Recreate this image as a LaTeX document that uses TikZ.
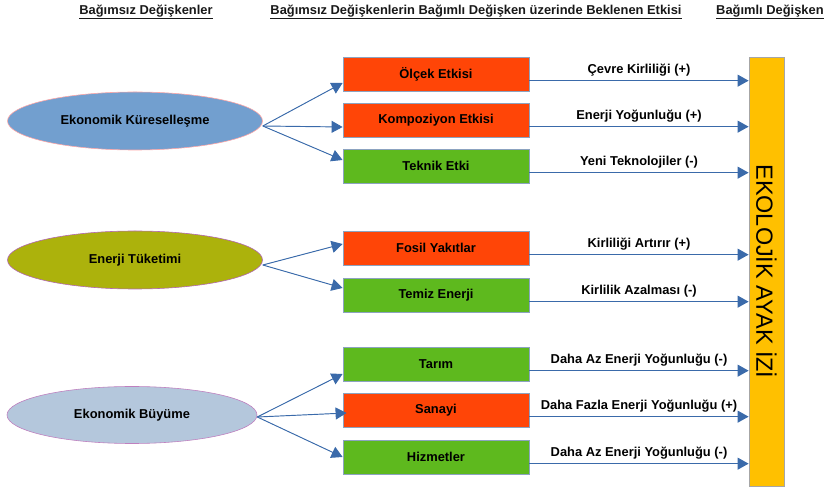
\documentclass[tikz,border=0pt]{standalone}
\usepackage{fontspec}
\setmainfont{Liberation Sans}
\usetikzlibrary{arrows.meta,shapes.geometric}

\definecolor{kirmizi}{HTML}{FF4507}
\definecolor{yesil}{HTML}{5EB91E}
\definecolor{kenar}{HTML}{8CA3C0}
\definecolor{okmavi}{HTML}{3A6AAA}
\definecolor{sari}{HTML}{FFC000}
\definecolor{elmavi}{HTML}{729FCF}
\definecolor{elzeytin}{HTML}{ACB20C}
\definecolor{elacik}{HTML}{B4C7DC}

\begin{document}
\begin{tikzpicture}[x = 0.03cm, y = -0.03cm,
	baslik/.style = {font = \fontsize{11}{13}\selectfont\bfseries, text = black!90, inner sep = 0pt},
	kutu/.style = {draw = kenar, line width = 0.7pt, minimum width = 5.58cm, minimum height = 1.02cm, inner sep = 0pt, font = \fontsize{11}{13}\selectfont\bfseries},
	elips/.style = {ellipse, draw, line width = 0.5pt, minimum width = 7.65cm, minimum height = 1.74cm, inner sep = 0pt, font = \fontsize{11}{13}\selectfont\bfseries},
	ok/.style = {-{Triangle[length = 0.33cm, width = 0.36cm]}, draw = okmavi, fill = okmavi, line width = 0.8pt},
	etiket/.style = {above, inner sep = 3.5pt, font = \fontsize{11}{13}\selectfont\bfseries}]
	\useasboundingbox (0,0) rectangle (829,488);

	\node[baslik] (H1) at (146,12) {\underline{Bağımsız Değişkenler}};
	\node[baslik] (H2) at (476,12) {\underline{Bağımsız Değişkenlerin Bağımlı Değişken üzerinde Beklenen Etkisi}};
	\node[baslik, anchor = west] (H3) at (716,12) {\underline{Bağımlı Değişken}};

	\node[elips, fill = elmavi, draw = red!35] (EK) at (135,121) {Ekonomik Küreselleşme};
	\node[elips, fill = elzeytin, draw = violet!60] (ET) at (135,260) {Enerji Tüketimi};
	\node[elips, fill = elacik, draw = violet!50, minimum width = 7.5cm, minimum height = 1.71cm] (EB) at (132,415) {Ekonomik Büyüme};

	\node[kutu, fill = kirmizi] (OL) at (436,74) {Ölçek Etkisi};
	\node[kutu, fill = kirmizi] (KO) at (436,120) {Kompoziyon Etkisi};
	\node[kutu, fill = yesil] (TE) at (436,166) {Teknik Etki};
	\node[kutu, fill = kirmizi] (FY) at (436,248) {Fosil Yakıtlar};
	\node[kutu, fill = yesil] (TZ) at (436,295) {Temiz Enerji};
	\node[kutu, fill = yesil] (TA) at (436,364) {Tarım};
	\node[kutu, fill = kirmizi] (SA) at (436,410) {Sanayi};
	\node[kutu, fill = yesil] (HI) at (436,457) {Hizmetler};

	\node[draw = black!35, line width = 0.7pt, fill = sari, rotate = -90, minimum width = 12.87cm, minimum height = 1.05cm, inner sep = 0pt, font = \fontsize{20}{24}\selectfont] (AY) at (766.5,271.5) {EKOLOJİK AYAK İZİ};

	\draw[ok] ([yshift = -0.15cm]EK.east) -- ([yshift = -0.27cm]OL.west);
	\draw[ok] ([yshift = -0.15cm]EK.east) -- ([yshift = -0.21cm]KO.west);
	\draw[ok] ([yshift = -0.15cm]EK.east) -- ([yshift = 0.18cm]TE.west);
	\draw[ok] ([yshift = -0.15cm]ET.east) -- ([yshift = 0.12cm]FY.west);
	\draw[ok] ([yshift = -0.15cm]ET.east) -- ([yshift = 0.21cm]TZ.west);
	\draw[ok] ([yshift = -0.06cm]EB.east) -- ([yshift = -0.3cm]TA.west);
	\draw[ok] ([yshift = -0.06cm]EB.east) -- ([xshift = 0.12cm, yshift = -0.09cm]SA.west);
	\draw[ok] ([yshift = -0.06cm]EB.east) -- (HI.west);

	\foreach \k/\m in {OL/Çevre Kirliliği (+), KO/Enerji Yoğunluğu (+), TE/Yeni Teknolojiler (-), FY/Kirliliği Artırır (+), TZ/Kirlilik Azalması (-), TA/Daha Az Enerji Yoğunluğu (-), SA/Daha Fazla Enerji Yoğunluğu (+), HI/Daha Az Enerji Yoğunluğu (-)}
	{
		\coordinate (\k R) at ([yshift = -0.2cm]\k.east);
		\draw[ok] (\k R) -- (\k R -| AY.south) node[etiket, midway] {\m};
	}
\end{tikzpicture}
\end{document}
